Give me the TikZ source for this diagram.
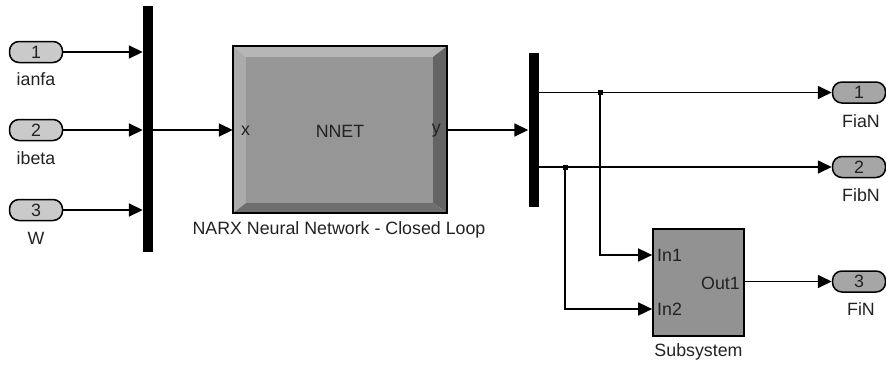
\documentclass[tikz,border=0pt]{standalone}
\usepackage{fontspec}
\setmainfont{Liberation Sans}
\usetikzlibrary{arrows.meta}
\definecolor{inportfill}{HTML}{CACACA}
\definecolor{outportfill}{HTML}{A6A6A6}
\definecolor{facegray}{HTML}{969696}
\definecolor{bevlight}{HTML}{B6B6B6}
\definecolor{bevleft}{HTML}{ABABAB}
\definecolor{bevdark}{HTML}{646464}
\definecolor{bevbottom}{HTML}{6E6E6E}
\definecolor{subfill}{HTML}{929292}
\definecolor{txt}{HTML}{222222}
\tikzset{
  every node/.style={font=\fontsize{17.8}{19}\selectfont, text=txt},
  portbase/.style={draw, line width=1.5pt, rounded corners=9.5pt, minimum width=53pt, minimum height=21pt, inner sep=0pt},
  inport/.style={portbase, fill=inportfill},
  outport/.style={portbase, fill=outportfill},
  muxbar/.style={fill=black, draw=none, minimum width=10pt, inner sep=0pt},
  wire/.style={line width=1.7pt},
  arr/.style={wire, -{Triangle[length=14pt,width=13pt]}},
  lbl/.style={inner sep=0pt},
  dot/.style={fill=black, minimum size=5pt, inner sep=0pt, draw=none}
}
\begin{document}
\begin{tikzpicture}[x=1pt,y=-1pt]
\useasboundingbox (0,0) rectangle (886,365);

% inports
\node[inport] (i1) at (36,52) {1};
\node[inport] (i2) at (36,130) {2};
\node[inport] (i3) at (36,210) {3};
\node[lbl] (li1) at (36,79) {ianfa};
\node[lbl] (li2) at (36,158) {ibeta};
\node[lbl] (li3) at (36,238) {W};

% mux 1
\node[muxbar, minimum height=246pt] (m1) at (148,129) {};

\draw[arr] (i1.east) -- (i1.east -| m1.west);
\draw[arr] (i2.east) -- (i2.east -| m1.west);
\draw[arr] (i3.east) -- (i3.east -| m1.west);

% NNET block
\node[minimum width=214pt, minimum height=167pt, inner sep=0pt] (nnet) at (340,129.5) {};
\coordinate (f1) at (246,57);
\coordinate (f2) at (433,57);
\coordinate (f3) at (433,203);
\coordinate (f4) at (246,203);
\fill[bevlight] (nnet.north west) -- (nnet.north east) -- (f2) -- (f1) -- cycle;
\fill[bevleft] (nnet.north west) -- (f1) -- (f4) -- (nnet.south west) -- cycle;
\fill[bevdark] (nnet.north east) -- (nnet.south east) -- (f3) -- (f2) -- cycle;
\fill[bevbottom] (nnet.south west) -- (nnet.south east) -- (f3) -- (f4) -- cycle;
\fill[facegray] (f1) rectangle (f3);
\draw[line width=1.7pt] (nnet.north west) rectangle (nnet.south east);
\node[lbl] (nnettxt) at (340,131) {NNET};
\node[lbl, anchor=west] (nx) at (241,131) {x};
\node[lbl, anchor=east] (ny) at (441,131) {y};
\node[lbl] (nlab) at (339,230) {NARX Neural Network - Closed Loop};

\draw[arr] (m1.east |- 0,130) -- (nnet.west |- 0,130);

% mux 2
\node[muxbar, minimum height=154pt] (m2) at (533.5,130) {};
\draw[arr] (nnet.east |- 0,130) -- (m2.west |- 0,130);

% outports
\node[outport] (o1) at (859,92.5) {1};
\node[outport] (o2) at (859,167) {2};
\node[outport] (o3) at (859,281.5) {3};
\node[lbl] (lo1) at (861,121) {FiaN};
\node[lbl] (lo2) at (861,195) {FibN};
\node[lbl] (lo3) at (861,309) {FiN};

% subsystem
\node[draw, line width=1.7pt, fill=subfill, minimum width=91pt, minimum height=107pt, inner sep=0pt] (sub) at (698.5,282.5) {};
\node[lbl, anchor=west] (in1t) at (657,255) {In1};
\node[lbl, anchor=west] (in2t) at (657,309) {In2};
\node[lbl, anchor=east] (out1t) at (740,283) {Out1};
\node[lbl] (sublab) at (698.5,352) {Subsystem};

% branch points
\coordinate (b1) at (600,92.5);
\coordinate (b2) at (565,167);
\coordinate (c1) at (600,255);
\coordinate (c2) at (565,309);

\draw[arr] (m2.east |- o1) -- (o1.west);
\draw[arr] (m2.east |- o2) -- (o2.west);
\draw[arr] (b1) -- (c1) -- (sub.west |- c1);
\draw[arr] (b2) -- (c2) -- (sub.west |- c2);
\draw[arr] (sub.east |- o3) -- (o3.west);
\node[dot] (d1) at (b1) {};
\node[dot] (d2) at (b2) {};
\end{tikzpicture}
\end{document}
